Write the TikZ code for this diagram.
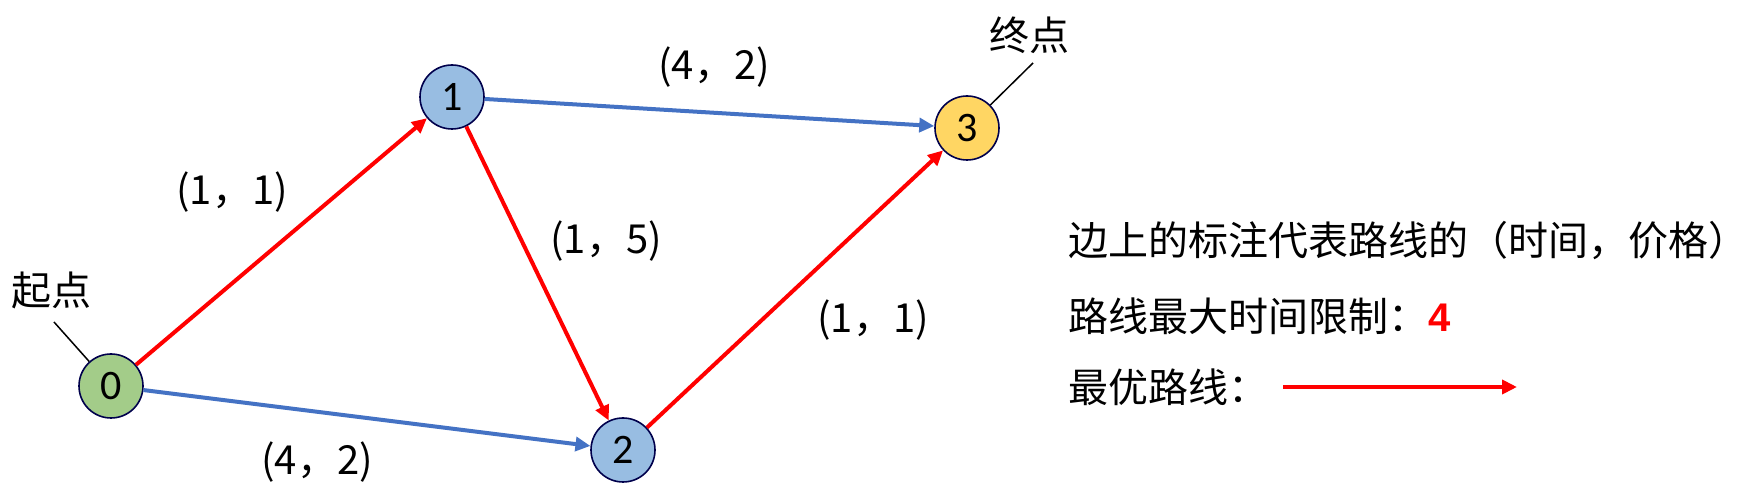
\documentclass[tikz,border=0pt]{standalone}
\usepackage{fontspec}
\setmainfont{Noto Sans CJK SC}
\newfontfamily\digitfont{Carlito}
\newfontfamily\boldfont{Liberation Sans}
\usetikzlibrary{positioning,arrows.meta}
\tikzset{
  city/.style={circle,draw=black!70!blue,line width=1.6pt,minimum size=64pt,inner sep=0pt,font=\digitfont\fontsize{42}{42}\selectfont},
  blueline/.style={draw={rgb,255:red,68;green,114;blue,196},line width=4pt,-{Triangle[length=15pt,width=14pt]}},
  redline/.style={draw=red,line width=4pt,-{Triangle[length=15pt,width=14pt]}},
  tag/.style={font=\fontsize{40}{40}\selectfont,inner sep=0pt},
}
\definecolor{startgreen}{RGB}{163,204,137}
\definecolor{cityblue}{RGB}{152,189,226}
\definecolor{endyellow}{RGB}{255,214,99}

\begin{document}
\begin{tikzpicture}[x=1pt,y=1pt]
	%% canvas
	\useasboundingbox (0,0) rectangle (1749,495);

	% cities
	\node[city,fill=startgreen] (c0) at (111,109) {0};
	\node[city,fill=cityblue] (c1) at (452,398) {1};
	\node[city,fill=cityblue] (c2) at (623,45) {2};
	\node[city,fill=endyellow] (c3) at (967,367) {3};

	% roads
	\draw[redline] (c0) -- (c1);
	\draw[blueline] (c0) -- (c2);
	\draw[redline] (c1) -- (c2);
	\draw[blueline] (c1) -- (c3);
	\draw[redline] (c2) -- (c3);

	% edge labels
	\node[tag] (l13) at (714,428) {(4，2)};
	\node[tag] (l01) at (232,303) {(1，1)};
	\node[tag] (l12) at (606,254) {(1，5)};
	\node[tag] (l23) at (873,175) {(1，1)};
	\node[tag] (l02) at (317,33) {(4，2)};

	% start / end
	\node[tag] (start) at (52,205) {起点};
	\node[tag] (finish) at (1029,460) {终点};
	\coordinate (startfoot) at (54,173);
	\coordinate (finishfoot) at (1033,432);
	\draw[line width=1.5pt] (startfoot) -- (c0);
	\draw[line width=1.5pt] (finishfoot) -- (c3);

	% legend
	\node[tag,anchor=west] (leg1) at (1068,254) {边上的标注代表路线的（时间，价格）};
	\node[tag,anchor=west] (leg2) at (1068,179) {路线最大时间限制：{\color{red}\boldfont\bfseries 4}};
	\node[tag,anchor=west] (leg3) at (1068,108) {最优路线：};
	\coordinate (arrA) at (1283,108);
	\coordinate (arrB) at (1517,108);
	\draw[redline] (arrA) -- (arrB);
\end{tikzpicture}
\end{document}
